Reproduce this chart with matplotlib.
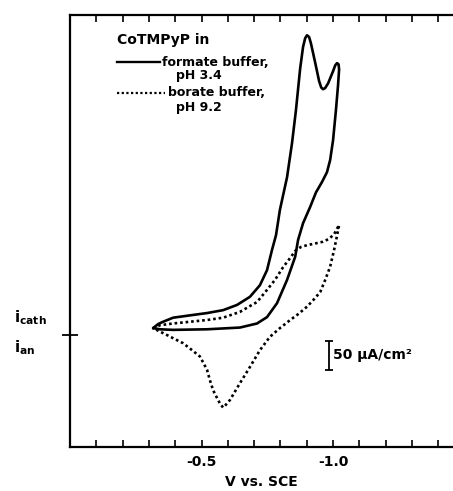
import matplotlib
matplotlib.use("Agg")
import matplotlib.pyplot as plt
from matplotlib.lines import Line2D

# --- DATA (V vs. SCE, current in uA/cm2, cathodic positive) ---
formate_v = [-0.316, -0.335, -0.354, -0.392, -0.456, -0.521, -0.582, -0.635,
             -0.684, -0.722, -0.749, -0.768, -0.783, -0.798, -0.825, -0.844,
             -0.859, -0.875, -0.886, -0.894, -0.901, -0.909, -0.916, -0.932,
             -0.947, -0.955, -0.962, -0.970, -0.981, -1.000, -1.008, -1.015,
             -1.021, -1.023, -1.019, -1.011, -1.000, -0.989,
             -0.977, -0.958, -0.935, -0.913, -0.886, -0.867, -0.856, -0.825,
             -0.787, -0.749, -0.711, -0.646, -0.521, -0.392, -0.342, -0.316]
formate_i = [12, 19, 23, 30, 34, 38, 43, 52,
             66, 86, 112, 147, 172, 216, 272, 331,
             388, 460, 497, 512, 517, 514, 503, 470,
             438, 427, 424, 426, 434, 455, 465, 469,
             467, 458, 431, 388, 336, 302,
             281, 264, 246, 221, 193, 164, 135, 95,
             55, 31, 20, 13, 10, 9, 10, 12]

borate_v = [-0.316, -0.342, -0.392, -0.456, -0.521, -0.582, -0.646, -0.684,
            -0.711, -0.749, -0.779, -0.810, -0.837, -0.856, -0.878, -0.901,
            -0.932, -0.962, -0.985, -1.004, -1.023, -1.015, -1.004, -0.989,
            -0.970, -0.951, -0.924, -0.901, -0.867, -0.837, -0.798, -0.760,
            -0.722, -0.684, -0.646, -0.608, -0.589, -0.582, -0.570, -0.555,
            -0.544, -0.532, -0.521, -0.506, -0.494, -0.464, -0.430, -0.399,
            -0.369, -0.342, -0.316]
borate_i = [12, 17, 20, 23, 26, 30, 40, 50,
            57, 78, 95, 117, 133, 145, 152, 155,
            158, 161, 166, 174, 190, 171, 147, 118,
            95, 74, 60, 49, 36, 26, 12, -3,
            -26, -55, -83, -112, -122, -125, -118, -105,
            -95, -78, -60, -47, -37, -26, -14, -7,
            0, 6, 12]

tick_v = [-0.1, -0.2, -0.3, -0.4, -0.5, -0.6, -0.7, -0.8, -0.9, -1.0,
          -1.1, -1.2, -1.3, -1.4]
tick_labels = ["", "", "", "", "-0.5", "", "", "", "", "-1.0",
               "", "", "", ""]

W, H = 453, 491


def fp(x, y):
    # pixel position -> figure fraction
    return x / W, 1 - y / H


plt.rcParams["font.family"] = "DejaVu Sans"
plt.rcParams["font.weight"] = "bold"
plt.rcParams["axes.unicode_minus"] = False

fig = plt.figure(figsize=(W / 100, H / 100), dpi=100)
ax = fig.add_axes([70 / W, 1 - 447 / H, 383 / W, 432 / H])

ax.plot(formate_v, formate_i, color="black", lw=1.9,
        solid_joinstyle="round", solid_capstyle="round")
ax.plot(borate_v, borate_i, color="black", lw=1.9, linestyle=(0, (1, 1.1)))

ax.set_xlim(0, -1.456)
ax.set_ylim(-193, 552)

ax.spines["right"].set_visible(False)
for s in ["top", "bottom", "left"]:
    ax.spines[s].set_linewidth(1.6)

ax.set_xticks(tick_v)
ax.set_xticklabels(tick_labels)
ax.tick_params(axis="x", direction="in", top=True, length=5, width=1.2,
               labelsize=10, pad=6)
ax.set_yticks([0])
ax.set_yticklabels([])
ax.tick_params(axis="y", direction="inout", length=11, width=1.3)
ax.set_xlabel("V vs. SCE", fontsize=10, fontweight="bold", labelpad=4)

# i_cath / i_an labels
fig.text(*fp(14, 318), r"$\mathregular{i_{cath}}$", fontsize=11,
         ha="left", va="center")
fig.text(*fp(14, 348), r"$\mathregular{i_{an}}$", fontsize=11,
         ha="left", va="center")

# legend block
fig.text(*fp(117, 40), "CoTMPyP in", fontsize=10, ha="left", va="center")
fig.add_artist(Line2D([117 / W, 160 / W], [1 - 62 / H] * 2,
                      color="black", lw=1.7, transform=fig.transFigure))
fig.text(*fp(162, 62), "formate buffer,", fontsize=9, ha="left", va="center")
fig.text(*fp(176, 76), "pH 3.4", fontsize=9, ha="left", va="center")
fig.add_artist(Line2D([117 / W, 165 / W], [1 - 93 / H] * 2,
                      color="black", lw=1.6, linestyle=(0, (1, 1.1)),
                      transform=fig.transFigure))
fig.text(*fp(168, 93), "borate buffer,", fontsize=9, ha="left", va="center")
fig.text(*fp(176, 107), "pH 9.2", fontsize=9, ha="left", va="center")

# 50 uA/cm2 scale bar
ax.errorbar([-0.985], [-35], yerr=[25], fmt="none", ecolor="black",
            elinewidth=1.3, capsize=3, capthick=1.3)
ax.text(-1.0, -35, "50 \u00b5A/cm\u00b2", fontsize=10, ha="left", va="center")

fig.savefig("out.png", dpi=100)
